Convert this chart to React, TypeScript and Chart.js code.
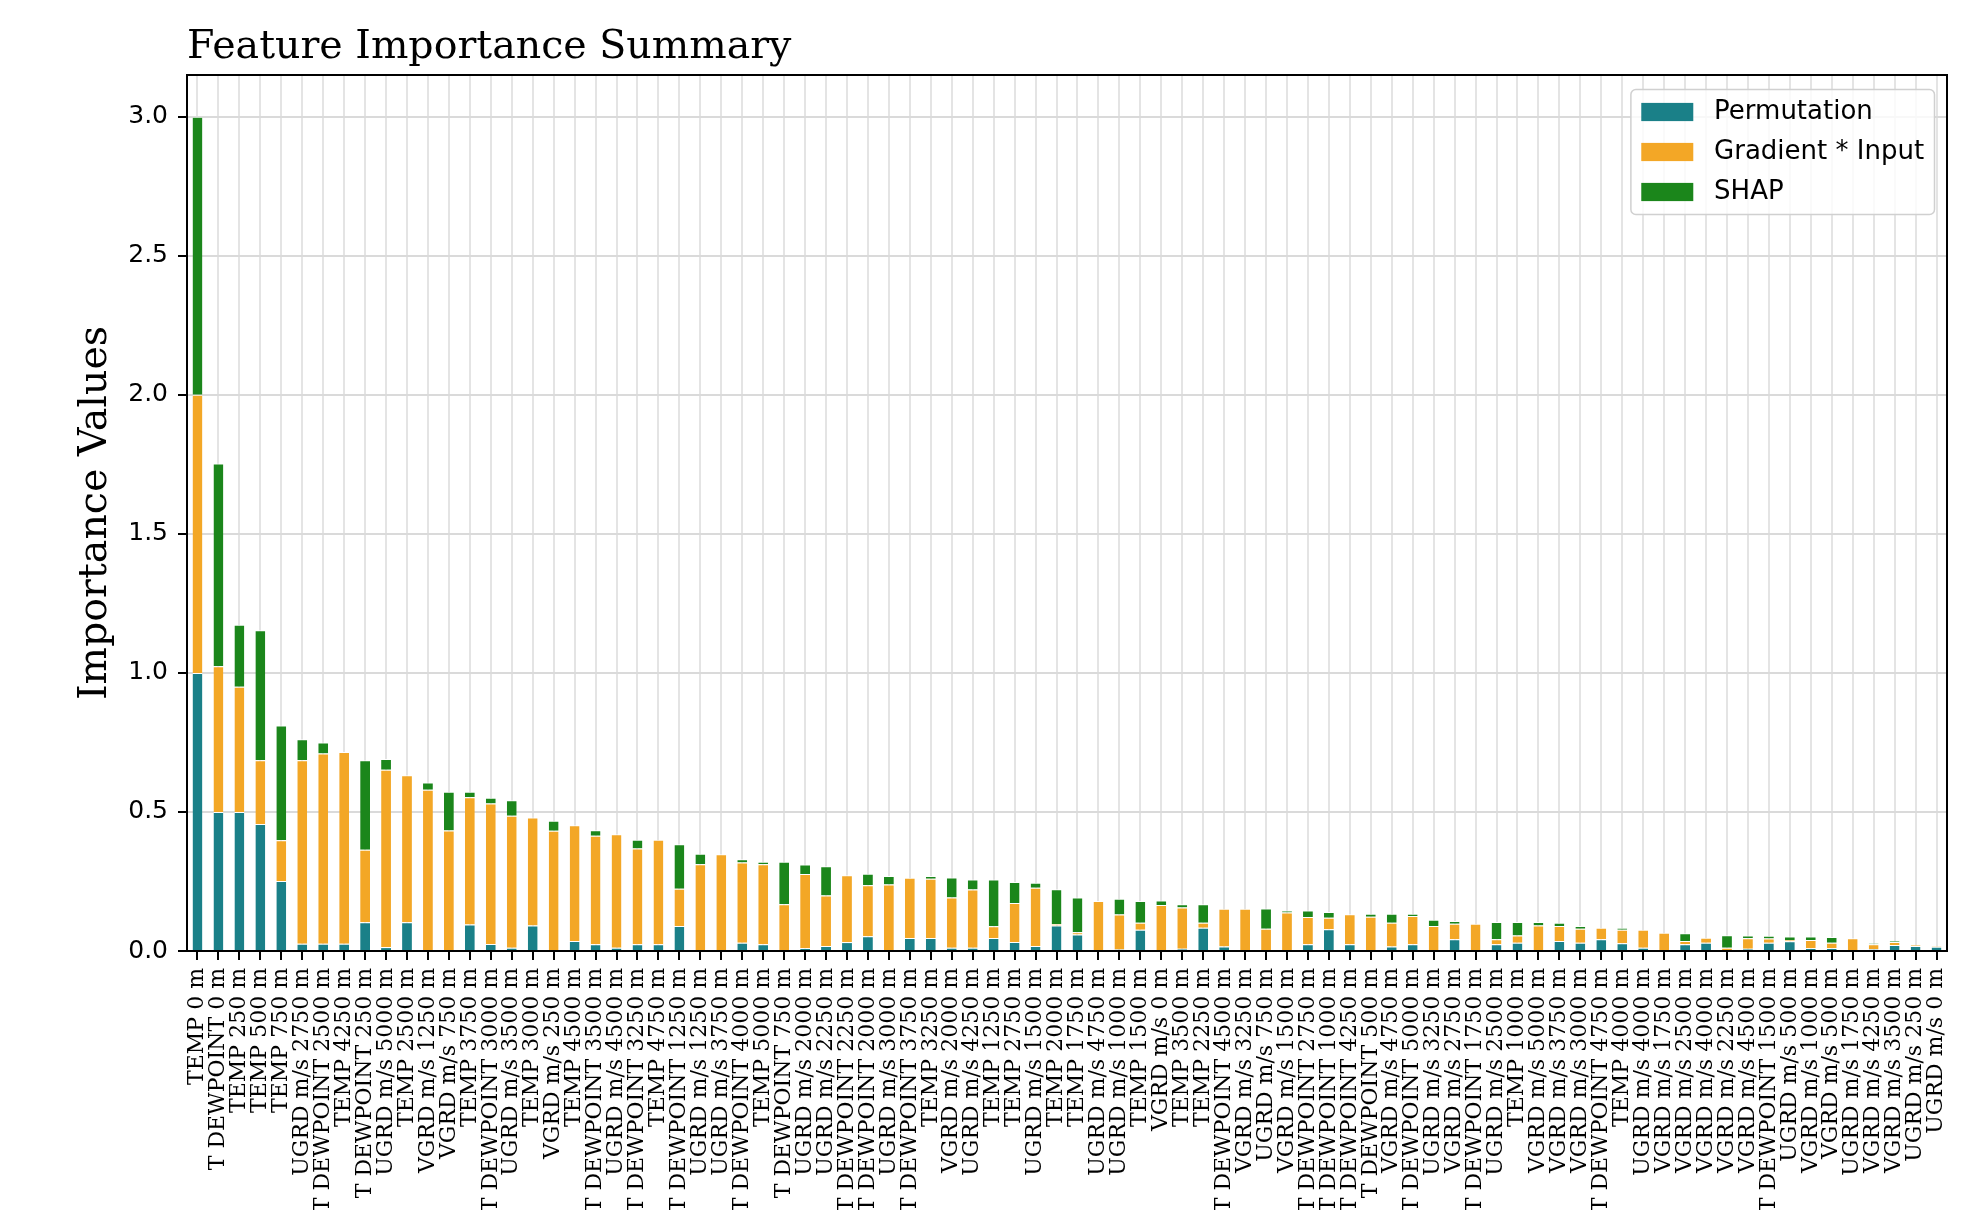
import { useEffect, useRef } from "react";
import { Chart, registerables } from "chart.js";

Chart.register(...registerables);

// Feature names, ordered by total importance
const features = [
  "TEMP 0 m", "T DEWPOINT 0 m", "TEMP 250 m", "TEMP 500 m", "TEMP 750 m",
  "UGRD m/s 2750 m", "T DEWPOINT 2500 m", "TEMP 4250 m", "T DEWPOINT 250 m", "UGRD m/s 5000 m",
  "TEMP 2500 m", "VGRD m/s 1250 m", "VGRD m/s 750 m", "TEMP 3750 m", "T DEWPOINT 3000 m",
  "UGRD m/s 3500 m", "TEMP 3000 m", "VGRD m/s 250 m", "TEMP 4500 m", "T DEWPOINT 3500 m",
  "UGRD m/s 4500 m", "T DEWPOINT 3250 m", "TEMP 4750 m", "T DEWPOINT 1250 m", "UGRD m/s 1250 m",
  "UGRD m/s 3750 m", "T DEWPOINT 4000 m", "TEMP 5000 m", "T DEWPOINT 750 m", "UGRD m/s 2000 m",
  "UGRD m/s 2250 m", "T DEWPOINT 2250 m", "T DEWPOINT 2000 m", "UGRD m/s 3000 m", "T DEWPOINT 3750 m",
  "TEMP 3250 m", "VGRD m/s 2000 m", "UGRD m/s 4250 m", "TEMP 1250 m", "TEMP 2750 m",
  "UGRD m/s 1500 m", "TEMP 2000 m", "TEMP 1750 m", "UGRD m/s 4750 m", "UGRD m/s 1000 m",
  "TEMP 1500 m", "VGRD m/s 0 m", "TEMP 3500 m", "TEMP 2250 m", "T DEWPOINT 4500 m",
  "VGRD m/s 3250 m", "UGRD m/s 750 m", "VGRD m/s 1500 m", "T DEWPOINT 2750 m", "T DEWPOINT 1000 m",
  "T DEWPOINT 4250 m", "T DEWPOINT 500 m", "VGRD m/s 4750 m", "T DEWPOINT 5000 m", "UGRD m/s 3250 m",
  "VGRD m/s 2750 m", "T DEWPOINT 1750 m", "UGRD m/s 2500 m", "TEMP 1000 m", "VGRD m/s 5000 m",
  "VGRD m/s 3750 m", "VGRD m/s 3000 m", "T DEWPOINT 4750 m", "TEMP 4000 m", "UGRD m/s 4000 m",
  "VGRD m/s 1750 m", "VGRD m/s 2500 m", "VGRD m/s 4000 m", "VGRD m/s 2250 m", "VGRD m/s 4500 m",
  "T DEWPOINT 1500 m", "UGRD m/s 500 m", "VGRD m/s 1000 m", "VGRD m/s 500 m", "UGRD m/s 1750 m",
  "VGRD m/s 4250 m", "VGRD m/s 3500 m", "UGRD m/s 250 m", "UGRD m/s 0 m",
];

// Normalised importance per method
const permutation = [
  1.0, 0.5, 0.5, 0.457, 0.252, 0.026, 0.026, 0.026, 0.103, 0.014,
  0.103, 0.003, 0.002, 0.095, 0.025, 0.012, 0.092, 0.002, 0.036, 0.024,
  0.012, 0.024, 0.024, 0.09, 0.002, 0.001, 0.03, 0.024, 0.001, 0.01,
  0.018, 0.032, 0.053, 0.001, 0.047, 0.047, 0.012, 0.012, 0.047, 0.032,
  0.018, 0.092, 0.059, 0.001, 0.005, 0.076, 0.001, 0.008, 0.084, 0.016,
  0.001, 0.004, 0.004, 0.024, 0.078, 0.024, 0.001, 0.016, 0.024, 0.002,
  0.042, 0.004, 0.024, 0.03, 0.004, 0.036, 0.03, 0.042, 0.028, 0.012,
  0.004, 0.024, 0.03, 0.004, 0.008, 0.03, 0.035, 0.01, 0.01, 0.004,
  0.006, 0.022, 0.018, 0.015,
];

const gradientInput = [
  1.0, 0.524, 0.45, 0.229, 0.146, 0.66, 0.684, 0.69, 0.261, 0.638,
  0.529, 0.577, 0.431, 0.458, 0.505, 0.474, 0.388, 0.43, 0.416, 0.39,
  0.408, 0.345, 0.376, 0.134, 0.31, 0.347, 0.288, 0.288, 0.167, 0.267,
  0.182, 0.24, 0.183, 0.238, 0.216, 0.213, 0.18, 0.209, 0.042, 0.141,
  0.209, 0.005, 0.008, 0.179, 0.126, 0.026, 0.164, 0.148, 0.018, 0.136,
  0.151, 0.076, 0.134, 0.098, 0.042, 0.108, 0.122, 0.086, 0.102, 0.088,
  0.056, 0.094, 0.018, 0.026, 0.088, 0.054, 0.05, 0.042, 0.048, 0.064,
  0.062, 0.012, 0.018, 0.008, 0.038, 0.015, 0.005, 0.03, 0.02, 0.042,
  0.018, 0.01, 0.004, 0.003,
];

const shap = [
  1.0, 0.729, 0.223, 0.467, 0.413, 0.075, 0.04, 0.0, 0.322, 0.038,
  0.0, 0.026, 0.14, 0.02, 0.021, 0.056, 0.0, 0.036, 0.0, 0.02,
  0.0, 0.031, 0.0, 0.16, 0.038, 0.0, 0.012, 0.009, 0.153, 0.034,
  0.105, 0.0, 0.042, 0.031, 0.0, 0.01, 0.072, 0.036, 0.168, 0.075,
  0.018, 0.125, 0.125, 0.0, 0.057, 0.078, 0.017, 0.012, 0.066, 0.0,
  0.0, 0.073, 0.008, 0.024, 0.02, 0.0, 0.011, 0.032, 0.008, 0.022,
  0.01, 0.0, 0.062, 0.048, 0.012, 0.012, 0.01, 0.0, 0.008, 0.0,
  0.0, 0.028, 0.0, 0.045, 0.01, 0.01, 0.012, 0.012, 0.02, 0.0,
  0.004, 0.005, 0.0, 0.0,
];

const seriesNames = ["Permutation", "Gradient * Input", "SHAP"];
const seriesColors = ["#1a8088", "#f3a726", "#1b861b"];

const SERIF = "'DejaVu Serif', serif";
const SANS = "'DejaVu Sans', sans-serif";

const WIDTH = 1963;
const HEIGHT = 1210;
const PLOT_LEFT = 187;
const PLOT_RIGHT = 1947;
const PLOT_BOTTOM = 951;

// Closed black frame around the plotting area
const axesFrame = {
  id: "axesFrame",
  afterDatasetsDraw(chart: any) {
    const { ctx, chartArea } = chart;
    const { left, right, top, bottom } = chartArea;
    ctx.save();
    ctx.strokeStyle = "#000";
    ctx.lineWidth = 2;
    ctx.beginPath();
    ctx.moveTo(left, bottom);
    ctx.lineTo(left, top);
    ctx.lineTo(right, top);
    ctx.lineTo(right, bottom);
    ctx.closePath();
    ctx.stroke();
    ctx.restore();
  },
};

// Legend box in the upper-right corner of the plotting area
const cornerLegend = {
  id: "cornerLegend",
  afterDraw(chart: any) {
    const { ctx, chartArea } = chart;
    const fs = 26;
    const pad = 0.4 * fs;
    const handleW = 2 * fs;
    const handleH = 0.7 * fs;
    const gap = 0.8 * fs;
    const pitch = 40;
    const edge = 12.5;
    const items = chart.data.datasets.map((d: any) => ({ label: d.label, color: d.backgroundColor }));
    ctx.save();
    ctx.font = `${fs}px ${SANS}`;
    const textW = Math.max(...items.map((i: any) => ctx.measureText(i.label).width));
    const w = pad + handleW + gap + textW + pad;
    const h = 22.5 * 2 + pitch * (items.length - 1);
    const x0 = chartArea.right - edge - w;
    const y0 = chartArea.top + edge + 2;
    const r = 5;
    ctx.beginPath();
    ctx.moveTo(x0 + r, y0);
    ctx.lineTo(x0 + w - r, y0);
    ctx.arcTo(x0 + w, y0, x0 + w, y0 + r, r);
    ctx.lineTo(x0 + w, y0 + h - r);
    ctx.arcTo(x0 + w, y0 + h, x0 + w - r, y0 + h, r);
    ctx.lineTo(x0 + r, y0 + h);
    ctx.arcTo(x0, y0 + h, x0, y0 + h - r, r);
    ctx.lineTo(x0, y0 + r);
    ctx.arcTo(x0, y0, x0 + r, y0, r);
    ctx.closePath();
    ctx.fillStyle = "rgba(255,255,255,0.8)";
    ctx.fill();
    ctx.strokeStyle = "#d0d0d0";
    ctx.lineWidth = 1.5;
    ctx.stroke();
    items.forEach((it: any, i: number) => {
      const cy = y0 + 22.5 + i * pitch;
      ctx.fillStyle = it.color;
      ctx.fillRect(x0 + pad, cy - handleH / 2, handleW, handleH);
      ctx.fillStyle = "#000";
      ctx.textBaseline = "middle";
      ctx.textAlign = "left";
      ctx.fillText(it.label, x0 + pad + handleW + gap, cy);
    });
    ctx.restore();
  },
};

export default function App() {
  const canvasRef = useRef<HTMLCanvasElement | null>(null);

  useEffect(() => {
    const canvas = canvasRef.current;
    if (!canvas) return;
    const seriesData = [permutation, gradientInput, shap];
    const chart = new Chart(canvas, {
      type: "bar",
      data: {
        labels: features,
        datasets: seriesNames.map((name, i) => ({
          label: name,
          data: seriesData[i],
          backgroundColor: seriesColors[i],
          borderColor: "#ffffff",
          borderWidth: { top: 1, right: 0, bottom: 0, left: 0 },
          barPercentage: 0.47,
          categoryPercentage: 1,
        })),
      },
      options: {
        responsive: false,
        animation: false,
        devicePixelRatio: 1,
        layout: { padding: { left: 0, right: WIDTH - PLOT_RIGHT, top: 0, bottom: 0 } },
        plugins: {
          legend: { display: false },
          tooltip: { enabled: false },
          title: {
            display: true,
            text: "Feature Importance Summary",
            align: "start",
            fullSize: false,
            color: "#000",
            font: { family: SERIF, size: 39.5, weight: "normal", lineHeight: 1.2 },
            padding: { top: 24, bottom: 3.6 },
          },
        },
        scales: {
          x: {
            stacked: true,
            offset: true,
            grid: {
              offset: false,
              color: "#e4e4e4",
              lineWidth: 2,
              drawTicks: true,
              tickColor: "#000",
              tickLength: 9,
              tickWidth: 2,
            },
            border: { display: true, color: "#000", width: 2 },
            ticks: {
              autoSkip: false,
              minRotation: 90,
              maxRotation: 90,
              padding: 8,
              color: "#000",
              font: { family: SERIF, size: 22 },
            },
            afterFit: (scale: any) => {
              scale.height = HEIGHT - PLOT_BOTTOM;
              scale.paddingLeft = 0;
              scale.paddingRight = 0;
            },
          },
          y: {
            stacked: true,
            min: 0,
            max: 3.15,
            grid: {
              color: "#dadada",
              lineWidth: 2,
              drawTicks: true,
              tickColor: "#000",
              tickLength: 9,
              tickWidth: 2,
            },
            border: { display: true, color: "#000", width: 2 },
            ticks: {
              stepSize: 0.5,
              includeBounds: false,
              padding: 10,
              color: "#000",
              font: { family: SANS, size: 25 },
              callback: (v: any) => Number(v).toFixed(1),
            },
            title: {
              display: true,
              text: "Importance Values",
              color: "#000",
              font: { family: SERIF, size: 39.5, weight: "normal", lineHeight: 1.2 },
              padding: { top: 72, bottom: 0 },
            },
            afterFit: (scale: any) => {
              scale.width = PLOT_LEFT;
              scale.paddingTop = 0;
              scale.paddingBottom = 0;
            },
          },
        },
      },
      plugins: [axesFrame, cornerLegend],
    } as any);
    return () => chart.destroy();
  }, []);

  return (
    <div
      style={{
        position: "fixed",
        left: 0,
        top: 0,
        width: WIDTH,
        height: HEIGHT,
        overflow: "hidden",
        background: "#fff",
      }}
    >
      <canvas ref={canvasRef} width={WIDTH} height={HEIGHT} style={{ display: "block" }} />
    </div>
  );
}
